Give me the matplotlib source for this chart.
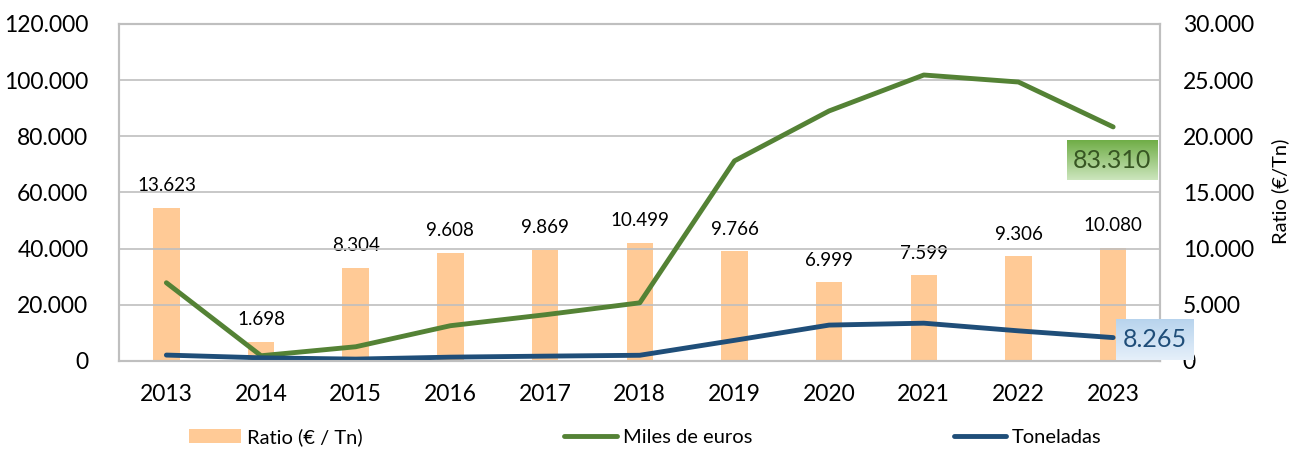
import matplotlib.pyplot as plt
import numpy as np

plt.rcParams['font.family'] = ['Lato', 'DejaVu Sans']

years = ["2013", "2014", "2015", "2016", "2017", "2018", "2019", "2020", "2021", "2022", "2023"]
ratio = [13623, 1698, 8304, 9608, 9869, 10499, 9766, 6999, 7599, 9306, 10080]
miles_euros = [27800, 1800, 5000, 12500, 16400, 20650, 71200, 89000, 101800, 99300, 83310]
toneladas = [2040, 1060, 600, 1300, 1660, 1970, 7290, 12720, 13400, 10670, 8265]

def fmt(v):
    return f"{v:,.0f}".replace(",", ".")

fig = plt.figure(figsize=(13.01, 4.51), dpi=100)
ax = fig.add_axes([0.0915, 0.2, 0.8005, 0.747])
ax2 = ax.twinx()

x = np.arange(len(years))
grid_c = "#BFBFBF"

# bars on the secondary axis
bars = ax2.bar(x, ratio, 0.28, color="#FFCA96", zorder=1, label="Ratio (€ / Tn)")
for xi, v in zip(x, ratio):
    ax2.text(xi, v + 1200, fmt(v), ha="center", va="bottom", fontsize=13.5)

ax2.set_ylim(0, 30000)
ax2.set_yticks(np.arange(0, 30001, 5000))
ax2.set_yticklabels([fmt(v) for v in np.arange(0, 30001, 5000)], fontsize=16.5)
ax2.tick_params(axis="y", length=0, pad=16)
fig.text(1280 / 1301, 0.575, "Ratio (€/Tn)", rotation=90, fontsize=14.5,
         ha="center", va="center")

# lines drawn on the primary axis, which is put on top
ax.set_zorder(ax2.get_zorder() + 1)
ax.patch.set_visible(False)
l1, = ax.plot(x, miles_euros, color="#548235", lw=3.5, solid_capstyle="round", label="Miles de euros")
l2, = ax.plot(x, toneladas, color="#1F4E79", lw=3.5, solid_capstyle="round", label="Toneladas")

ax.set_yticks(np.arange(0, 120001, 20000))
ax.set_yticklabels([fmt(v) for v in np.arange(0, 120001, 20000)], fontsize=16.5)
ax.set_xticks(x)
ax.set_xticklabels(years, fontsize=16.5)
ax.tick_params(axis="y", length=0, pad=22)
ax.tick_params(axis="x", length=0, pad=17)
ax.grid(axis="y", color=grid_c, lw=1.2)
ax.set_axisbelow(True)
for a in (ax, ax2):
    for s in a.spines.values():
        s.set_color(grid_c)
        s.set_linewidth(1.5)

# end value callouts
# green box with a vertical gradient
gx0, gx1 = x[-1] - 0.49, x[-1] + 0.47
gy0, gy1 = 64300, 78500
grad = np.linspace(0, 1, 64).reshape(-1, 1)
top = np.array([0.80, 0.90, 0.74])
bot = np.array([0.44, 0.68, 0.28])
img = top + (bot - top) * grad[..., None]
ax.imshow(img, extent=[gx0, gx1, gy1, gy0], aspect="auto", zorder=3, interpolation="bilinear")
ax.text((gx0 + gx1) / 2, (gy0 + gy1) / 2, fmt(miles_euros[-1]), fontsize=18, color="#375623",
        ha="center", va="center", zorder=4)

# light blue box
bx0, bx1 = x[-1] + 0.03, x[-1] + 0.85
by0, by1 = 300, 14800
grad_b = np.array([[0.90, 0.94, 0.98], [0.72, 0.83, 0.93]])
imgb = grad_b[0] + (grad_b[1] - grad_b[0]) * grad[..., None]
ax.imshow(imgb, extent=[bx0, bx1, by1, by0], aspect="auto", zorder=3,
          interpolation="bilinear", clip_on=False)
ax.text((bx0 + bx1) / 2, (by0 + by1) / 2, fmt(toneladas[-1]), fontsize=18, color="#1F4E79",
        ha="center", va="center", zorder=4, clip_on=False)

ax.set_xlim(-0.5, len(years) - 0.5)
ax.set_ylim(0, 120000)

fig.legend(handles=[bars, l1, l2], loc="lower center", ncol=3, frameon=False,
           fontsize=14.5, bbox_to_anchor=(0.496, -0.03), columnspacing=10.0,
           handlelength=2.6, handletextpad=0.3)

fig.savefig("out.png", dpi=100)
